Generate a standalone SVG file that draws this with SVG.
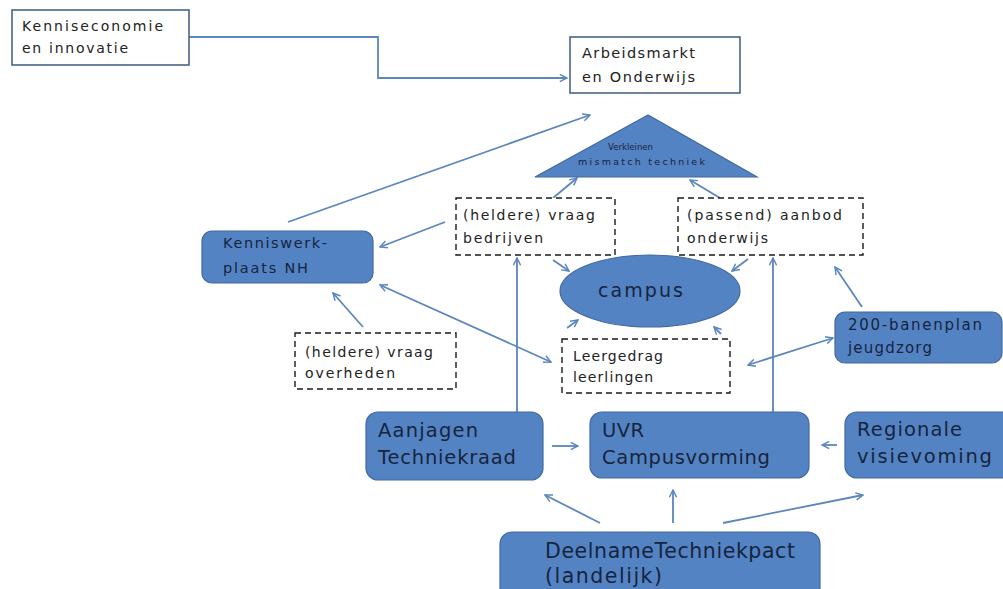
<svg xmlns="http://www.w3.org/2000/svg" width="1003" height="589" viewBox="0 0 1003 589">
<style>
.bg{fill:#ffffff}
.wbox{fill:#ffffff;stroke:#4a6588;stroke-width:1.6}
.dbox{fill:#ffffff;stroke:#1a1a1a;stroke-width:1.4;stroke-dasharray:6,4}
.node{fill:#5383c3;stroke:#41699e;stroke-width:1.2}
.t{font-family:"DejaVu Sans","Liberation Sans",sans-serif;fill:#222222}
.tn{font-family:"DejaVu Sans","Liberation Sans",sans-serif;fill:#17243e}
.c{fill:none;stroke:#5b86be;stroke-width:1.8}
</style>
<defs>
<marker id="ah" viewBox="0 0 10 10" refX="9" refY="5" markerWidth="9" markerHeight="9" markerUnits="userSpaceOnUse" orient="auto-start-reverse">
<path d="M1,1 L9,5 L1,9" fill="none" stroke="#5b86be" stroke-width="1.6"/>
</marker>
</defs>
<rect class="bg" x="0" y="0" width="1003" height="589"/>

<g id="connectors">
<polyline class="c" points="189,37 378,37 378,78 567,78" marker-end="url(#ah)"/>
<line class="c" x1="288" y1="222" x2="590" y2="115" marker-end="url(#ah)"/>
<line class="c" x1="553" y1="198" x2="577" y2="178" marker-end="url(#ah)"/>
<line class="c" x1="720" y1="198" x2="690" y2="180" marker-end="url(#ah)"/>
<line class="c" x1="445" y1="222" x2="380" y2="247" marker-end="url(#ah)"/>
<line class="c" x1="553" y1="260" x2="569" y2="271" marker-end="url(#ah)"/>
<line class="c" x1="748" y1="259" x2="732" y2="271" marker-end="url(#ah)"/>
<line class="c" x1="380" y1="285" x2="551" y2="362" marker-start="url(#ah)" marker-end="url(#ah)"/>
<line class="c" x1="363" y1="327" x2="333" y2="293" marker-end="url(#ah)"/>
<line class="c" x1="567" y1="328" x2="578" y2="320" marker-end="url(#ah)"/>
<line class="c" x1="721" y1="334" x2="714" y2="327" marker-end="url(#ah)"/>
<line class="c" x1="748" y1="365" x2="833" y2="338" marker-start="url(#ah)" marker-end="url(#ah)"/>
<line class="c" x1="862" y1="307" x2="835" y2="267" marker-end="url(#ah)"/>
<line class="c" x1="517" y1="412" x2="517" y2="258" marker-end="url(#ah)"/>
<line class="c" x1="773" y1="412" x2="773" y2="258" marker-end="url(#ah)"/>
<line class="c" x1="552" y1="446" x2="578" y2="446" marker-end="url(#ah)"/>
<line class="c" x1="837" y1="445" x2="822" y2="445" marker-end="url(#ah)"/>
<line class="c" x1="600" y1="523" x2="545" y2="495" marker-end="url(#ah)"/>
<line class="c" x1="673" y1="523" x2="673" y2="490" marker-end="url(#ah)"/>
<line class="c" x1="723" y1="523" x2="863" y2="495" marker-end="url(#ah)"/>
</g>

<g id="kenniseconomie">
<rect class="wbox" x="12" y="10" width="177" height="55"/>
<text class="t" x="22" y="31" font-size="14" textLength="141" lengthAdjust="spacing">Kenniseconomie</text>
<text class="t" x="22" y="53" font-size="14" textLength="106" lengthAdjust="spacing">en innovatie</text>
</g>

<g id="arbeidsmarkt">
<rect class="wbox" x="570" y="37" width="170" height="56"/>
<text class="t" x="582" y="58" font-size="14.5" textLength="113" lengthAdjust="spacing">Arbeidsmarkt</text>
<text class="t" x="582" y="82" font-size="14.5" textLength="113" lengthAdjust="spacing">en Onderwijs</text>
</g>

<g id="mismatch">
<polygon class="node" points="648,115 535,177 757,177"/>
<text class="tn" x="608" y="150" font-size="9.5" textLength="45" lengthAdjust="spacingAndGlyphs">Verkleinen</text>
<text class="tn" x="578" y="165" font-size="9.5" textLength="127" lengthAdjust="spacing">mismatch techniek</text>
</g>

<g id="kenniswerkplaats">
<rect class="node" x="202" y="231" width="171" height="52" rx="10"/>
<text class="tn" x="223" y="248" font-size="14.5" textLength="104" lengthAdjust="spacing">Kenniswerk-</text>
<text class="tn" x="223" y="273" font-size="14.5" textLength="85" lengthAdjust="spacing">plaats NH</text>
</g>

<g id="vraag-bedrijven">
<rect class="dbox" x="456" y="198" width="159" height="57"/>
<text class="t" x="463" y="220" font-size="14" textLength="132" lengthAdjust="spacing">(heldere)  vraag</text>
<text class="t" x="463" y="243" font-size="14" textLength="80" lengthAdjust="spacing">bedrijven</text>
</g>

<g id="aanbod-onderwijs">
<rect class="dbox" x="678" y="198" width="185" height="57"/>
<text class="t" x="687" y="220" font-size="14" textLength="155" lengthAdjust="spacing">(passend) aanbod</text>
<text class="t" x="687" y="243" font-size="14" textLength="81" lengthAdjust="spacing">onderwijs</text>
</g>

<g id="campus">
<ellipse class="node" cx="650" cy="291" rx="90" ry="36"/>
<text class="tn" x="598" y="297" font-size="19" textLength="85" lengthAdjust="spacing">campus</text>
</g>

<g id="vraag-overheden">
<rect class="dbox" x="295" y="333" width="161" height="56"/>
<text class="t" x="305" y="357" font-size="14" textLength="128" lengthAdjust="spacing">(heldere)  vraag</text>
<text class="t" x="305" y="378" font-size="14" textLength="90" lengthAdjust="spacing">overheden</text>
</g>

<g id="leergedrag">
<rect class="dbox" x="562" y="339" width="168" height="54"/>
<text class="t" x="573" y="361" font-size="14" textLength="90" lengthAdjust="spacing">Leergedrag</text>
<text class="t" x="573" y="382" font-size="14" textLength="80" lengthAdjust="spacing">leerlingen</text>
</g>

<g id="banenplan">
<rect class="node" x="835" y="312" width="167" height="51" rx="10"/>
<text class="tn" x="848" y="330" font-size="15" textLength="134" lengthAdjust="spacing">200-banenplan</text>
<text class="tn" x="848" y="353" font-size="15" textLength="84" lengthAdjust="spacing">jeugdzorg</text>
</g>

<g id="aanjagen">
<rect class="node" x="366" y="412" width="177" height="68" rx="12"/>
<text class="tn" x="378" y="437" font-size="19.5" textLength="100" lengthAdjust="spacing">Aanjagen</text>
<text class="tn" x="378" y="464" font-size="19.5" textLength="138" lengthAdjust="spacing">Techniekraad</text>
</g>

<g id="uvr">
<rect class="node" x="590" y="412" width="219" height="66" rx="12"/>
<text class="tn" x="602" y="437" font-size="19.5" textLength="42" lengthAdjust="spacing">UVR</text>
<text class="tn" x="602" y="464" font-size="19.5" textLength="168" lengthAdjust="spacing">Campusvorming</text>
</g>

<g id="regionale">
<rect class="node" x="845" y="412" width="170" height="66" rx="12"/>
<text class="tn" x="857" y="436" font-size="19.5" textLength="105" lengthAdjust="spacing">Regionale</text>
<text class="tn" x="857" y="463" font-size="19.5" textLength="135" lengthAdjust="spacing">visievoming</text>
</g>

<g id="deelname">
<rect class="node" x="500" y="532" width="320" height="72" rx="12"/>
<text class="tn" x="545" y="558" font-size="20.5" textLength="250" lengthAdjust="spacing">DeelnameTechniekpact</text>
<text class="tn" x="545" y="583" font-size="20.5" textLength="117" lengthAdjust="spacing">(landelijk)</text>
</g>
</svg>
